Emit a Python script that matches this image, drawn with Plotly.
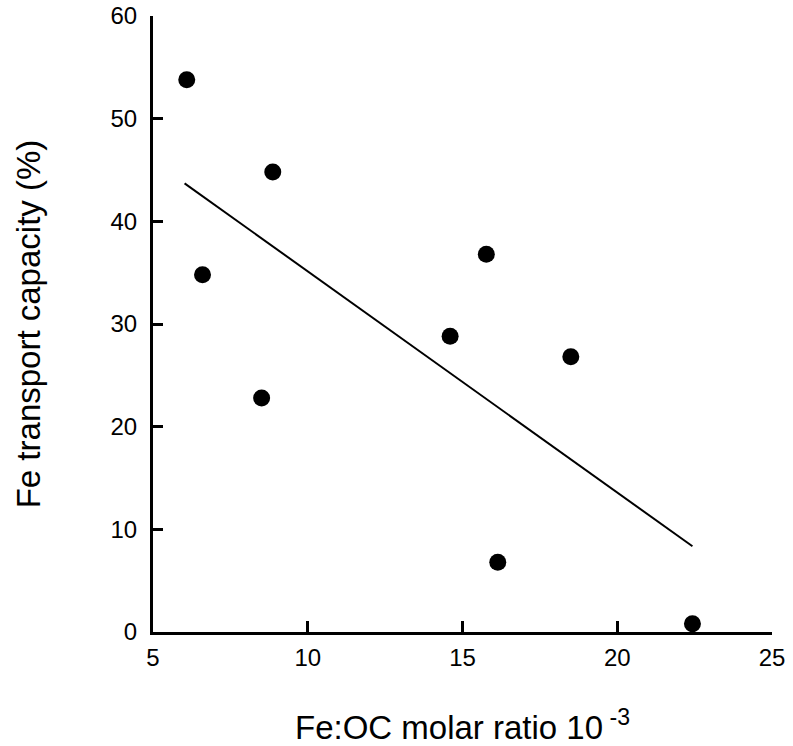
import plotly.graph_objects as go

# Data
fe_oc_ratio = [6.09, 8.87, 6.60, 8.51, 15.77, 14.60, 18.50, 16.14, 22.43]
fe_transport = [53.8, 44.8, 34.8, 22.8, 36.8, 28.8, 26.8, 6.8, 0.8]

# Regression line endpoints
fit_x = [6.02, 22.43]
fit_y = [43.7, 8.35]

x_ticks = [5, 10, 15, 20, 25]
y_ticks = [0, 10, 20, 30, 40, 50, 60]

FONT = "Liberation Sans, Arial, sans-serif"

fig = go.Figure()
fig.add_trace(go.Scatter(x=fit_x, y=fit_y, mode="lines",
                         line=dict(color="black", width=2), showlegend=False))
fig.add_trace(go.Scatter(x=fe_oc_ratio, y=fe_transport, mode="markers",
                         marker=dict(color="black", size=17), showlegend=False))

fig.update_layout(
    width=793, height=746,
    margin=dict(l=153, r=21, t=16, b=114),
    paper_bgcolor="white", plot_bgcolor="white",
    font=dict(family=FONT, color="black"),
    xaxis=dict(range=[5, 25], tickvals=x_ticks, showgrid=False, zeroline=False,
               showline=True, linecolor="black", linewidth=3, automargin=False,
               ticks="inside", ticklen=11, tickwidth=3, tickcolor="black",
               tickfont=dict(size=24), ticklabelstandoff=2,
               ticklabeloverflow="allow",
               title=dict(text="Fe:OC molar ratio 10<sup> -3</sup>",
                          font=dict(size=33), standoff=49)),
    yaxis=dict(range=[0, 60], tickvals=y_ticks, showgrid=False, zeroline=False,
               showline=True, linecolor="black", linewidth=3, automargin=False,
               ticks="inside", ticklen=10, tickwidth=3, tickcolor="black",
               tickfont=dict(size=24), ticklabelstandoff=8,
               ticklabeloverflow="allow",
               title=dict(text="Fe transport capacity (%)",
                          font=dict(size=33), standoff=60)),
)

# remove the browser's default 8px body margin so the figure fills the window
fig.write_html("out.html", config={"displayModeBar": False},
               post_script="document.body.style.margin='0';")
